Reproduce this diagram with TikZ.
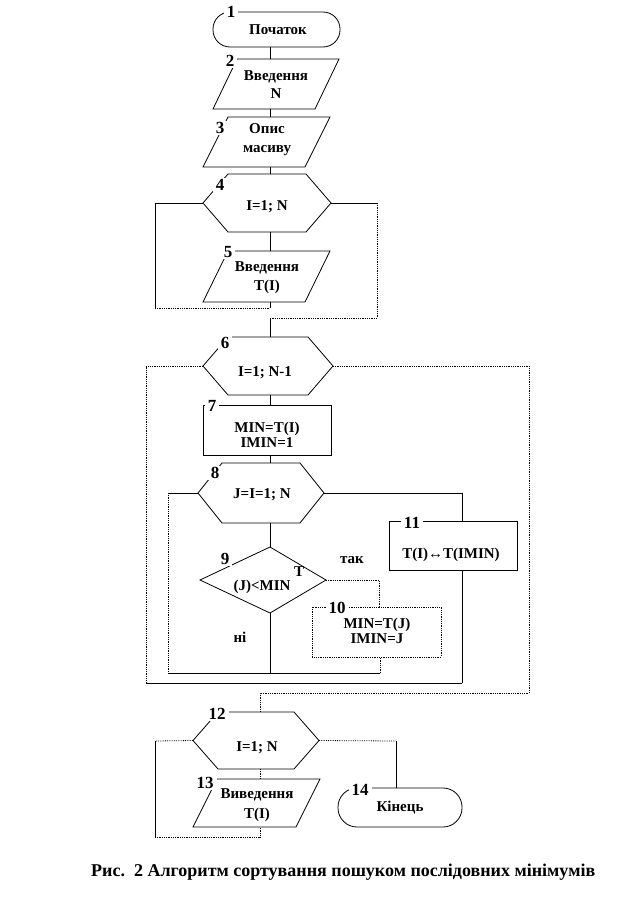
\documentclass[tikz,border=0pt]{standalone}
\usepackage{fontspec}
\setmainfont{Liberation Serif}
\usetikzlibrary{calc}
\newcommand\fsz{\fontsize{15}{19}\selectfont\bfseries}
\newcommand\fnum{\fontsize{17}{19}\selectfont\bfseries}
\newcommand\fcap{\fontsize{18}{20}\selectfont\bfseries}
\newcommand\mkpar[2]{\draw[ln] (#1.south west) -- ($(#1.north west)+(#2,0)$) -- (#1.north east) -- ($(#1.south east)+(-#2,0)$) -- cycle;}
\newcommand\mkhex[3][ln]{\draw[#1] (#2.west) -- ($(#2.north west)+(#3,0)$) -- ($(#2.north east)+(-#3,0)$) -- (#2.east) -- ($(#2.south east)+(-#3,0)$) -- ($(#2.south west)+(#3,0)$) -- cycle;}
\tikzset{
  ln/.style={line width=0.8pt, black},
  dl/.style={line width=0.8pt, black, densely dotted},
  shp/.style={inner sep=0pt, outer sep=0pt, minimum width=#1},
  num/.style={font=\fnum, fill=white, inner xsep=3pt, inner ysep=1pt},
  lbl/.style={font=\fsz, inner sep=1pt, align=center},
  lbt/.style={font=\fontsize{15}{15}\selectfont\bfseries, inner sep=1pt, align=center},
}
\begin{document}
\begin{tikzpicture}[x=1pt,y=-1pt]
\useasboundingbox (0,0) rectangle (628,897);
\coordinate (ax) at (270,0);
\coordinate (bx) at (260,0);
% shape nodes
\node[shp=127, minimum height=35] (n1) at (276.5,29.5) {};
\node[shp=126, minimum height=50] (n2) at (276,84) {};
\node[shp=127, minimum height=50] (n3) at (266.5,142) {};
\node[shp=128, minimum height=58] (n4) at (267,203) {};
\node[shp=127, minimum height=51] (n5) at (266.5,276.5) {};
\node[shp=130, minimum height=58] (n6) at (268,366) {};
\node[shp=128, minimum height=50] (n7) at (267,430) {};
\node[shp=126, minimum height=60] (n8) at (261,493) {};
\node[shp=126, minimum height=66] (n9) at (263,580) {};
\node[shp=129, minimum height=50] (n10) at (376.5,632) {};
\node[shp=128, minimum height=49] (n11) at (453,545.5) {};
\node[shp=126, minimum height=57] (n12) at (256,740.5) {};
\node[shp=127, minimum height=48] (n13) at (256.5,803) {};
\node[shp=124, minimum height=39] (n14) at (400,807.5) {};
% shapes
\draw[ln, rounded corners=17] (n1.north west) rectangle (n1.south east);
\mkpar{n2}{24}
\mkpar{n3}{25}
\mkhex{n4}{25}
\mkpar{n5}{25}
\mkhex{n6}{25}
\draw[ln] (n7.north west) rectangle (n7.south east);
\mkhex{n8}{24}
\draw[ln] (n9.west) -- (n9.north -| ax) -- (n9.east) -- (n9.south -| ax) -- cycle;
\draw[dl] (n10.north west) rectangle (n10.south east);
\draw[ln] (n11.north west) rectangle (n11.south east);
\mkhex{n12}{25}
\mkpar{n13}{24}
\draw[ln, rounded corners=19] (n14.north west) rectangle (n14.south east);
% texts
\node[lbl] (t1) at (278,30) {Початок};
\node[lbl, font=\fontsize{15}{18}\selectfont\bfseries] (t2) at (276,85) {Введення\\N};
\node[lbl] (t3) at (267,139.5) {Опис\\масиву};
\node[lbl] (t4) at (267,207) {I=1; N};
\node[lbl] (t5) at (267,277.5) {Введення\\T(I)};
\node[lbl] (t6) at (265,373) {I=1; N-1};
\node[lbt] (t7) at (267,434.5) {MIN=T(I)\\IMIN=1};
\node[lbl] (t8) at (262,495) {J=I=1; N};
\node[lbl] (t9) at (262,587) {(J)<MIN};
\node[lbt] (t10) at (377,630.5) {MIN=T(J)\\IMIN=J};
\node[lbl] (t11) at (451,555) {T(I)↔T(IMIN)};
\node[lbl] (t12) at (257,748) {I=1; N};
\node[lbl, font=\fontsize{15}{20}\selectfont\bfseries] (t13) at (257,805) {Виведення\\T(I)};
\node[lbl] (t14) at (400,808) {Кінець};
% connectors
\draw[ln] (n1.south -| ax) -- (n2.north -| ax);
\draw[ln] (n2.south -| ax) -- (n3.north -| ax);
\draw[ln] (n3.south -| ax) -- (n4.north -| ax);
\draw[ln] (n4.south -| ax) -- (n5.north -| ax);
\coordinate (l4a) at (155,203); \coordinate (l4b) at (155,308); \coordinate (l4c) at (270,308);
\coordinate (r4a) at (377,203); \coordinate (r4b) at (377,318); \coordinate (r4c) at (270,318);
\draw[ln] (n4.west) -- (l4a) -- (l4b);
\draw[dl] (l4b) -- (l4c);
\draw[ln] (n5.south -| ax) -- (l4c);
\draw[ln] (n4.east) -- (r4a);
\draw[dl] (r4a) -- (r4b) -- (r4c);
\draw[ln] (r4c) -- (n6.north -| ax);
\draw[ln] (n6.south -| ax) -- (n7.north -| ax);
\draw[ln] (n7.south -| ax) -- (n8.north -| ax);
\draw[ln] (n8.south -| ax) -- (n9.north -| ax);
% loop 6
\coordinate (l6a) at (146,366); \coordinate (l6b) at (146,683); \coordinate (l6c) at (462,683);
\coordinate (r6a) at (529,366); \coordinate (r6b) at (529,693); \coordinate (r6c) at (260,693);
\draw[dl] (n6.west) -- (l6a) -- (l6b);
\draw[ln] (l6b) -- (l6c);
\draw[dl] (n6.east) -- (r6a) -- (r6b) -- (r6c) -- (n12.north -| bx);
% loop 8
\coordinate (r8a) at (462,493);
\draw[ln] (n8.east) -- (r8a) -- (n11.north -| r8a);
\draw[ln] (n11.south -| r8a) -- (l6c);
\coordinate (l8a) at (168,493); \coordinate (l8b) at (168,673); \coordinate (l8c) at (380,673);
\draw[ln] (n8.west) -- (l8a);
\draw[dl] (l8a) -- (l8b);
\draw[ln] (l8b) -- (l8c);
\draw[dl] (l8c) -- (n10.south -| l8c);
\draw[ln] (n9.south -| ax) -- (l8b -| ax);
\coordinate (r9a) at (379,580);
\draw[dl] (n9.east) -- (r9a) -- (n10.north -| r9a);
% loop 12
\coordinate (l12a) at (155,741); \coordinate (l12b) at (155,837); \coordinate (l12c) at (260,837);
\draw[dl] (n12.west) -- (l12a);
\draw[ln] (l12a) -- (l12b);
\draw[dl] (l12b) -- (l12c) -- (n13.south -| bx);
\draw[dl] (n12.south -| bx) -- (n13.north -| bx);
\coordinate (r12a) at (396,741);
\draw[dl] (n12.east) -- (r12a);
\draw[ln] (r12a) -- (n14.north -| r12a);
% numbers
\node[num] (k1) at (231,12) {1};
\node[num] (k2) at (230,61) {2};
\node[num] (k3) at (220,128) {3};
\node[num] (k4) at (220,185) {4};
\node[num] (k5) at (228,252) {5};
\node[num] (k6) at (225,343) {6};
\node[num] (k7) at (212,406) {7};
\node[num] (k8) at (215,473) {8};
\node[num] (k9) at (225,559) {9};
\node[num] (k10) at (337,608) {10};
\node[num] (k11) at (412,523) {11};
\node[num] (k12) at (217,714) {12};
\node[num] (k13) at (205,783) {13};
\node[num] (k14) at (360,790) {14};
\node[lbl] (tT) at (299,572) {T};
\node[lbl] (tyes) at (352,560) {так};
\node[lbl] (tno) at (240,637) {ні};
\node[lbl, font=\fcap, anchor=west] (cap) at (90,872) {Рис.\ \ 2 Алгоритм сортування пошуком послідовних мінімумів};
\end{tikzpicture}
\end{document}
